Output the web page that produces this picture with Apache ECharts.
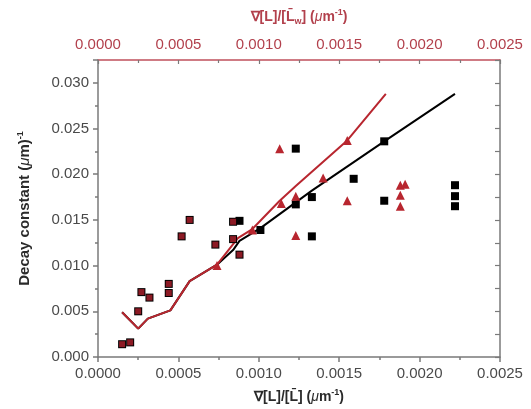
<!DOCTYPE html>
<html>
<head>
<meta charset="utf-8">
<script src="https://cdn.jsdelivr.net/npm/echarts@6/dist/echarts.min.js"></script>
<style>
html,body{margin:0;padding:0;background:#fff;}
#c{width:531px;height:409px;}
</style>
</head>
<body>
<div id="c"></div>
<script>
// ---- data ----
// black squares: decay constant vs grad[L]/[L-bar] (bottom axis)
const blackX = [0.00015,0.00020,0.00025,0.00027,0.00032,0.00044,0.00044,0.00052,0.00057,0.00073,0.00084,0.00084,0.00088,0.00088,0.00101,0.00123,0.00123,0.00133,0.00133,0.00159,0.00178,0.00178,0.00222,0.00222,0.00222];
const blackY = [0.0014,0.0016,0.0050,0.0071,0.0065,0.0080,0.0070,0.0132,0.0150,0.0123,0.0129,0.0148,0.0149,0.0112,0.0139,0.0228,0.0167,0.0175,0.0132,0.0195,0.0236,0.0171,0.0188,0.0176,0.0165];
// red triangles: decay constant vs grad[L]/[L-bar_w] (top axis)
const redX = [0.00015,0.00020,0.00025,0.00027,0.00032,0.00044,0.00044,0.00052,0.00057,0.00073,0.00084,0.00084,0.00088,0.00074,0.00096,0.00113,0.00114,0.00123,0.00123,0.00140,0.00155,0.00155,0.00188,0.00191,0.00188,0.00188];
const redY = [0.0014,0.0016,0.0050,0.0071,0.0065,0.0080,0.0070,0.0132,0.0150,0.0123,0.0129,0.0148,0.0112,0.0100,0.0139,0.0228,0.0168,0.0176,0.0133,0.0196,0.0237,0.0171,0.0188,0.0189,0.0177,0.0165];
// model curves
const blackLineX = [0.00015,0.00025,0.00031,0.00045,0.00057,0.00074,0.00084,0.00088,0.00101,0.00133,0.00178,0.00222];
const blackLineY = [0.0049,0.0031,0.0042,0.0051,0.0083,0.0101,0.0117,0.0127,0.0141,0.0182,0.0236,0.0288];
const redLineX = [0.00015,0.00025,0.00031,0.00045,0.00057,0.00074,0.00087,0.00096,0.00113,0.00123,0.00155,0.00179];
const redLineY = [0.0049,0.0031,0.0042,0.0051,0.0083,0.0101,0.0130,0.0140,0.0171,0.0187,0.0237,0.0288];
const xTicks = ['0.0000','0.0005','0.0010','0.0015','0.0020','0.0025'];
const yTicks = ['0.000','0.005','0.010','0.015','0.020','0.025','0.030'];

const RED = '#b8262f';
const RED_TXT = '#b2404c';
const zip = (a,b)=>a.map((v,i)=>[v,b[i]]);
const blackPts = zip(blackX, blackY);
const redPts = zip(redX, redY);
const coincide = v => blackPts.some(p => Math.abs(p[0]-v[0])<1e-9 && Math.abs(p[1]-v[1])<1e-9);

const xFmt = v => { const s=(Math.round(v*1e5)/1e5).toFixed(4); return xTicks.includes(s)?s:''; };
const yFmt = v => { const s=(Math.round(v*1e4)/1e4).toFixed(3); return (yTicks.includes(s) && Math.abs(v*200-Math.round(v*200))<1e-6)?s:''; };

const font = 'Liberation Sans, Arial, sans-serif';
const nameRich = (color) => ({
  b:{fontFamily:font,fontSize:14,fontWeight:'bold',color:color,lineHeight:18,verticalAlign:'middle'},
  i:{fontFamily:font,fontSize:14,fontStyle:'italic',color:color,lineHeight:18,verticalAlign:'middle'},
  sup:{fontFamily:font,fontSize:9,fontWeight:'bold',color:color,lineHeight:18,verticalAlign:'top'},
  sub:{fontFamily:font,fontSize:9,fontWeight:'bold',color:color,lineHeight:18,verticalAlign:'bottom'}
});

const chart = echarts.init(document.getElementById('c'), null, {renderer:'canvas'});
chart.setOption({
  animation:false,
  backgroundColor:'#fff',
  grid:{left:98,right:31,top:60,bottom:49,containLabel:false},
  xAxis:[
    {type:'value',position:'bottom',min:0,max:0.0025,interval:0.0005,
     axisLine:{show:true,onZero:false,lineStyle:{color:'#7a7a7a',width:1.5}},
     axisTick:{show:true,inside:false,length:5,lineStyle:{color:'#7a7a7a',width:1.5}},
     minorTick:{show:true,splitNumber:2,length:3,lineStyle:{color:'#7a7a7a',width:1.5}},
     splitLine:{show:false},
     axisLabel:{formatter:xFmt,margin:9,fontFamily:font,fontSize:15,color:'#4a4a4a'},
     name:'{b|∇[L]/[L̄] (}{i|μ}{b|m}{sup|-1}{b|)}',nameLocation:'middle',nameGap:31,
     nameTextStyle:{rich:nameRich('#2a2a2a')}},
    {type:'value',position:'top',min:0,max:0.0025,interval:0.0005,
     axisLine:{show:true,onZero:false,lineStyle:{color:'#c0505c',width:1.5}},
     axisTick:{show:true,inside:true,length:4,lineStyle:{color:'#7a7a7a',width:1.2}},
     minorTick:{show:true,splitNumber:2,length:3,lineStyle:{color:'#7a7a7a',width:1.2}},
     splitLine:{show:false},
     axisLabel:{formatter:xFmt,margin:8,fontFamily:font,fontSize:15,color:RED_TXT},
     name:'{b|∇[L]/[L̄}{sub|w}{b|] (}{i|μ}{b|m}{sup|-1}{b|)}',nameLocation:'middle',nameGap:34,
     nameTextStyle:{rich:nameRich(RED_TXT)}}
  ],
  yAxis:[
    {type:'value',position:'left',min:0,max:0.0325,interval:0.005,
     axisLine:{show:true,onZero:false,lineStyle:{color:'#7a7a7a',width:1.5}},
     axisTick:{show:true,inside:false,length:5,lineStyle:{color:'#7a7a7a',width:1.5}},
     minorTick:{show:true,splitNumber:2,length:3,lineStyle:{color:'#7a7a7a',width:1.5}},
     splitLine:{show:false},
     axisLabel:{formatter:yFmt,margin:9,fontFamily:font,fontSize:15,color:'#4a4a4a'},
     name:'{b|Decay constant (}{i|μ}{b|m)}{sup|-1}',nameLocation:'middle',nameGap:64,nameRotate:90,
     nameTextStyle:{rich:{
       b:{fontFamily:font,fontSize:15,fontWeight:'bold',color:'#2a2a2a',lineHeight:18,verticalAlign:'middle'},
       i:{fontFamily:font,fontSize:15,fontStyle:'italic',color:'#2a2a2a',lineHeight:18,verticalAlign:'middle'},
       sup:{fontFamily:font,fontSize:9,fontWeight:'bold',color:'#2a2a2a',lineHeight:18,verticalAlign:'top'}
     }}},
    {type:'value',position:'right',min:0,max:0.0325,interval:0.0025,
     axisLine:{show:true,onZero:false,lineStyle:{color:'#7a7a7a',width:1.5}},
     axisTick:{show:true,inside:true,length:5,lineStyle:{color:'#7a7a7a',width:1.2}},
     splitLine:{show:false},axisLabel:{show:false}}
  ],
  series:[
    {type:'line',name:'black fit',xAxisIndex:0,yAxisIndex:0,data:zip(blackLineX,blackLineY),
     showSymbol:false,symbol:'none',lineStyle:{color:'#000',width:2},z:2},
    {type:'line',name:'red fit',xAxisIndex:1,yAxisIndex:0,data:zip(redLineX,redLineY),
     showSymbol:false,symbol:'none',lineStyle:{color:RED,width:2},z:3},
    {type:'scatter',name:'black',xAxisIndex:0,yAxisIndex:0,data:blackPts,
     symbol:'rect',symbolSize:8,itemStyle:{color:'#000',opacity:1},z:4},
    {type:'scatter',name:'red',xAxisIndex:1,yAxisIndex:0,data:redPts,
     symbol:(v)=>coincide(v)?'rect':'triangle',
     symbolSize:(v)=>coincide(v)?6:9,
     itemStyle:{color:(p)=>coincide(p.value)?'rgba(165,30,42,0.85)':RED,opacity:1},z:5}
  ]
});
</script>
</body>
</html>
